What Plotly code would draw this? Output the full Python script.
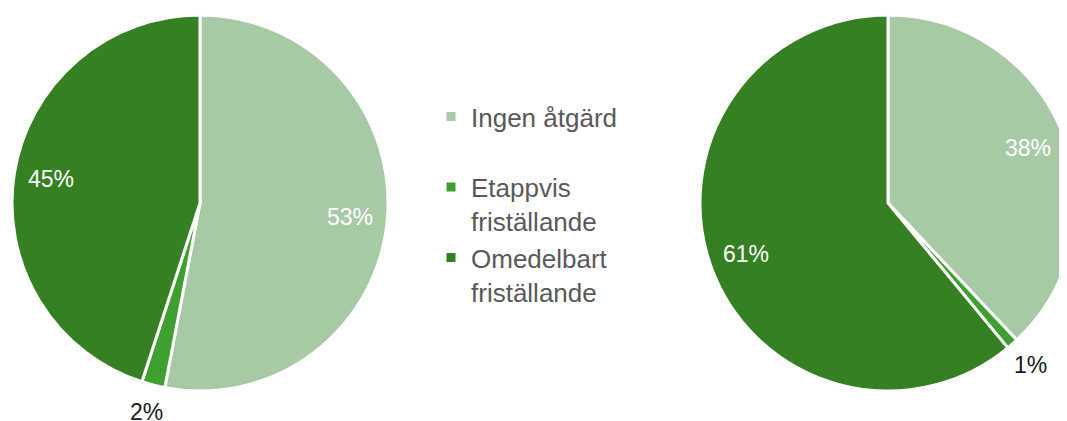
import math
import plotly.graph_objects as go

labels = ['Ingen åtgärd<br> ', 'Etappvis<br>friställande', 'Omedelbart<br>friställande']
left_values = [53, 2, 45]
right_values = [38, 1, 61]
colors = ['#A8C9A5', '#3EA02E', '#358022']
label_inside = [True, False, True]

# page body has an 8px margin, so work in figure pixels = screen - 8
OFF = 8
W, H = 1090, 421
R = 188
left_center = (200 - OFF, 203 - OFF)
right_center = (888 - OFF, 203 - OFF)


def dom(cx, cy):
    return dict(x=[(cx - R) / W, (cx + R) / W], y=[(H - cy - R) / H, (H - cy + R) / H])


def pie(values, center, show):
    return go.Pie(
        labels=labels,
        values=values,
        domain=dom(*center),
        sort=False,
        direction='clockwise',
        rotation=0,
        marker=dict(colors=colors, line=dict(color='white', width=3)),
        textinfo='none',
        hoverinfo='label+percent',
        showlegend=show,
        automargin=False,
    )


def pct_labels(values, center):
    # data labels at the middle angle of each slice
    out = []
    total = sum(values)
    start = 0
    for v, inside in zip(values, label_inside):
        mid = (start + v / 2) / total * 2 * math.pi
        start += v
        rr = R * (0.80 if inside else 1.15)
        px = center[0] + rr * math.sin(mid)
        py = center[1] - rr * math.cos(mid)
        out.append(dict(
            x=px / W, y=1 - py / H, xref='paper', yref='paper',
            text=f'{v}%', showarrow=False, xanchor='center', yanchor='middle',
            font=dict(size=23, color='white' if inside else '#1a1a1a',
                      family='Liberation Sans, Arial'),
        ))
    return out


fig = go.Figure()
fig.add_trace(pie(left_values, left_center, True))
fig.add_trace(pie(right_values, right_center, False))

fig.update_layout(
    width=W,
    height=H,
    margin=dict(l=0, r=0, t=0, b=0),
    paper_bgcolor='white',
    plot_bgcolor='white',
    annotations=pct_labels(left_values, left_center) + pct_labels(right_values, right_center),
    legend=dict(
        x=423 / W, y=1 - 85 / H, xanchor='left', yanchor='top',
        font=dict(size=26, color='#595959', family='Liberation Sans, Arial'),
        valign='top',
        itemwidth=30,
        bgcolor='rgba(0,0,0,0)',
    ),
)

fig.write_html("out.html")
